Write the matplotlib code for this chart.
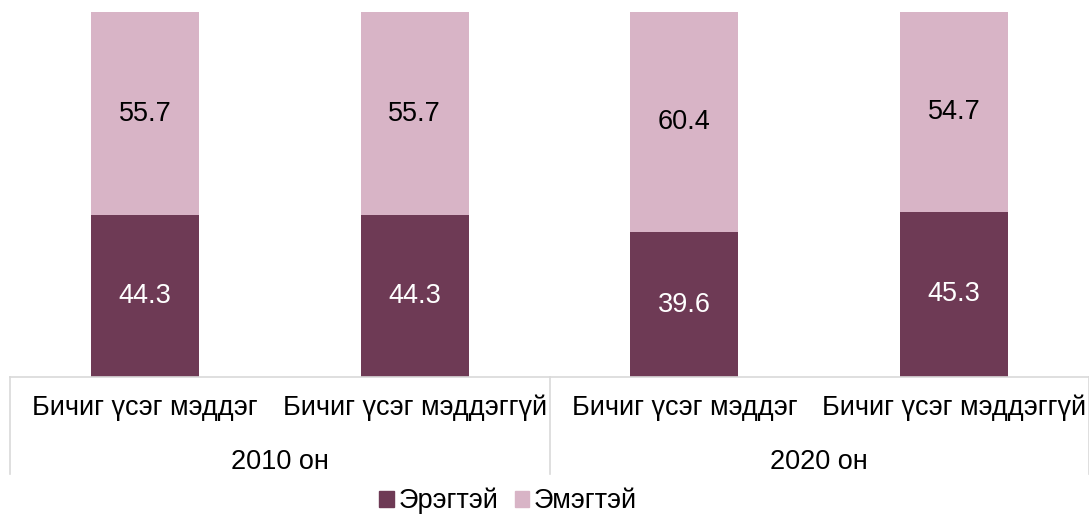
import matplotlib.pyplot as plt
from matplotlib.patches import Patch

plt.rcParams['font.family'] = ['Liberation Sans', 'DejaVu Sans']

groups = ['2010 он', '2020 он']
cats = ['Бичиг үсэг мэддэг', 'Бичиг үсэг мэддэггүй',
        'Бичиг үсэг мэддэг', 'Бичиг үсэг мэддэггүй']
male = [44.3, 44.3, 39.6, 45.3]
female = [55.7, 55.7, 60.4, 54.7]
series = ['Эрэгтэй', 'Эмэгтэй']

c_male = '#6E3A55'
c_female = '#D8B4C6'
grid_c = '#D9D9D9'
fs = 19.5

fig = plt.figure(figsize=(10.89, 5.15), dpi=100)
ax = fig.add_axes([10/1089, 1-377/515, 1-10/1089, 365/515])

x = list(range(len(cats)))
w = 0.4
ax.bar(x, male, w, color=c_male)
ax.bar(x, female, w, bottom=male, color=c_female)

for i in x:
    ax.text(i, male[i]/2, f'{male[i]:.1f}', ha='center', va='center',
            color='white', fontsize=fs)
    ax.text(i, male[i] + female[i]/2, f'{female[i]:.1f}', ha='center',
            va='center', color='black', fontsize=fs)

ax.set_xlim(-0.5, len(cats) - 0.5)
ax.set_ylim(0, 100)
for s in ['top', 'right', 'left']:
    ax.spines[s].set_visible(False)
ax.spines['bottom'].set_color(grid_c)
ax.spines['bottom'].set_linewidth(1.2)
ax.set_yticks([])
ax.set_xticks([])

# two-level category axis
for i, c in enumerate(cats):
    ax.text(i, -8.5, c, ha='center', va='center', fontsize=fs, clip_on=False)
for g, name in enumerate(groups):
    ax.text(2*g + 0.5, -23.3, name, ha='center', va='center', fontsize=fs,
            clip_on=False)
for xs in [-0.5, 1.5, 3.5]:
    ax.plot([xs, xs], [0, -26.5], color=grid_c, lw=1.2, clip_on=False)

handles = [Patch(color=c_male), Patch(color=c_female)]
fig.legend(handles, series, loc='center', bbox_to_anchor=(508/1089, 1-501/515),
           ncol=2, frameon=False, fontsize=fs, handlelength=0.55,
           handleheight=0.55, handletextpad=0.15, columnspacing=0.6,
           borderpad=0)

fig.savefig('out.png', dpi=100)
